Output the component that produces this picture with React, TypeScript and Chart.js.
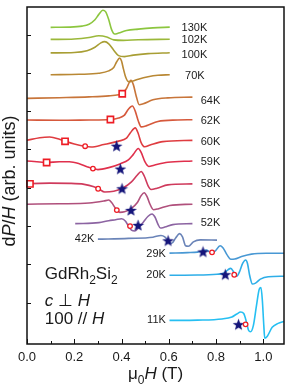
import React, { useEffect, useRef } from "react";
import { Chart, registerables } from "chart.js";
Chart.register(...registerables);

// ---- Data: magnetic field (T) and dP/dH signal (arb. units, stacked offsets) ----
const field130K = [0.1, 0.179, 0.233, 0.2625, 0.2875, 0.304, 0.321, 0.333, 0.346, 0.358, 0.371, 0.3875, 0.421, 0.471, 0.533, 0.604];
const signal130K = [322.3, 322.5, 323.5, 325.5, 330, 335.5, 339.7, 338, 330, 320, 315.5, 316.5, 319, 320.5, 321.8, 322.5];

const field102K = [0.1, 0.2, 0.2625, 0.304, 0.3375, 0.367, 0.408, 0.471, 0.604];
const signal102K = [310, 310.5, 312, 313.7, 312.5, 309.5, 309, 309.7, 310.2];

const field100K = [0.1, 0.2, 0.254, 0.2875, 0.3125, 0.329, 0.346, 0.367, 0.3875, 0.4125, 0.45, 0.5125, 0.604];
const signal100K = [296.3, 296.7, 298.5, 302, 306.5, 307.8, 305.5, 299, 293.5, 292.5, 294, 295.5, 296.5];

const field70K = [0.1, 0.221, 0.304, 0.346, 0.367, 0.379, 0.392, 0.4, 0.408, 0.417, 0.429, 0.446, 0.471, 0.5125, 0.554, 0.604];
const signal70K = [274, 274.5, 275.5, 278, 281.5, 287, 291, 288, 280, 272, 267, 267.5, 269.5, 272, 273.5, 274];

const field64K = [0, 0.1375, 0.2625, 0.346, 0.3875, 0.404, 0.421, 0.44, 0.45, 0.4625, 0.475, 0.492, 0.533, 0.596, 0.7];
const signal64K = [250, 250.7, 251.5, 252.5, 253.7, 255, 260, 268.5, 264, 252, 243.5, 244.5, 248.5, 250.5, 251.3];

const field62K = [0, 0.1375, 0.2625, 0.354, 0.3875, 0.4125, 0.429, 0.446, 0.458, 0.471, 0.483, 0.504, 0.554, 0.6375, 0.7];
const signal62K = [228, 227.7, 228, 228.5, 230, 233, 239, 242.2, 237, 227, 221, 222, 226.5, 228, 228.3];

const field60K = [0, 0.054, 0.096, 0.1375, 0.1625, 0.2, 0.242, 0.271, 0.325, 0.3875, 0.421, 0.4375, 0.458, 0.471, 0.483, 0.498, 0.521, 0.575, 0.7];
const signal60K = [207.3, 210, 210.7, 208.5, 206.3, 203.5, 201.3, 200.5, 203, 206.5, 209.5, 215, 220, 214, 205, 200.7, 202.5, 206, 207.3];

const field59K = [0, 0.054, 0.083, 0.1375, 0.179, 0.221, 0.254, 0.279, 0.3, 0.346, 0.396, 0.429, 0.45, 0.471, 0.483, 0.5, 0.515, 0.5375, 0.596, 0.7];
const signal59K = [186.3, 185.3, 184.7, 185.5, 185.5, 183.5, 180.5, 178.5, 177.5, 179.5, 183.5, 187.5, 193, 199, 195, 185, 180.7, 182, 185, 186.3];

const field58K = [0, 0.0125, 0.096, 0.179, 0.242, 0.2833, 0.304, 0.329, 0.367, 0.408, 0.442, 0.467, 0.483, 0.496, 0.5125, 0.525, 0.55, 0.596, 0.7];
const signal58K = [163, 163.2, 163.7, 163.5, 162.5, 160, 157.8, 154.7, 155.5, 159, 165, 172, 175.5, 171, 161, 157.3, 158.5, 162, 163];

const field55K = [0, 0.1375, 0.2625, 0.325, 0.346, 0.358, 0.375, 0.392, 0.4125, 0.442, 0.467, 0.483, 0.496, 0.508, 0.521, 0.535, 0.554, 0.604, 0.7];
const signal55K = [142.3, 142.7, 143.5, 145.5, 146.5, 144, 138, 134, 134.5, 138, 144, 151, 154, 150, 142, 136.7, 137.5, 141, 142.3];

const field52K = [0.204, 0.304, 0.346, 0.375, 0.4, 0.417, 0.429, 0.442, 0.456, 0.471, 0.492, 0.5125, 0.529, 0.542, 0.554, 0.5646, 0.583, 0.617, 0.7];
const signal52K = [122.5, 123.5, 125.5, 126.5, 127.5, 125, 120, 116, 115, 118, 124, 130, 132.3, 129, 122, 118, 119, 121.5, 122.5];

const field42K = [0.3, 0.429, 0.533, 0.567, 0.583, 0.6, 0.6125, 0.629, 0.646, 0.658, 0.671, 0.683, 0.704, 0.733, 0.804];
const signal42K = [106.7, 107.5, 108.7, 110.5, 109, 104, 102.5, 108, 112.3, 109, 100, 99.5, 104, 106, 105.7];

const field29K = [0.603, 0.679, 0.721, 0.742, 0.758, 0.779, 0.796, 0.817, 0.829, 0.846, 0.8625, 0.879, 0.908, 0.95, 1.0125, 1.0875];
const signal29K = [92.5, 93, 93.5, 94.5, 95.5, 93, 94.5, 100, 98, 91, 86.2, 86.5, 89, 91.5, 92.3, 92.3];

const field20K = [0.603, 0.721, 0.804, 0.833, 0.85, 0.8625, 0.875, 0.8875, 0.9, 0.9125, 0.925, 0.933, 0.942, 0.954, 0.967, 0.9875, 1.021, 1.0875];
const signal20K = [70, 70.2, 71, 72, 75.5, 77, 73, 69, 74, 82, 85.5, 82, 70, 61, 62, 66, 68.5, 69];

const field11K = [0.603, 0.721, 0.825, 0.867, 0.8875, 0.904, 0.917, 0.929, 0.9375, 0.946, 0.958, 0.971, 0.983, 0.99, 0.996, 1.002, 1.006, 1.017, 1.0375, 1.0625, 1.0875];
const signal11K = [24, 24.3, 25.5, 27.5, 30.5, 32.5, 31, 22, 14, 12.5, 19, 39, 56, 57.5, 44, 19, 6, 8, 17, 21, 23];

// Markers
const squareField = [0.403, 0.353, 0.161, 0.083, 0.0125];
const squareSignal = [254.7, 228.5, 206.3, 184.7, 163];
const circleField = [0.246, 0.279, 0.301, 0.38, 0.436, 0.783, 0.877, 0.925];
const circleSignal = [201.3, 178.5, 158, 136.3, 120, 93.3, 70.5, 20];
const starField = [0.379, 0.395, 0.402, 0.44, 0.47, 0.597, 0.745, 0.839, 0.895];
const starSignal = [201.3, 178, 158, 136, 120.7, 105, 93.7, 70.5, 19.7];

// Temperature labels
const tempLabels = ["130K", "102K", "100K", "70K", "64K", "62K", "60K", "59K", "58K", "55K", "52K", "42K", "29K", "20K", "11K"];
const tempLabelField = [0.654, 0.654, 0.654, 0.669, 0.735, 0.735, 0.735, 0.735, 0.735, 0.735, 0.735, 0.285, 0.5875, 0.5875, 0.5875];
const tempLabelSignal = [321.3, 309, 294, 273.3, 247.3, 226.7, 205.7, 185.7, 163.3, 143.3, 123.3, 107, 91.5, 70.5, 24];

// Axis ticks
const xTickValues = [0, 0.1, 0.2, 0.3, 0.4, 0.5, 0.6, 0.7, 0.8, 0.9, 1.0];
const xTickLabels = ["0.0", "", "0.2", "", "0.4", "", "0.6", "", "0.8", "", "1.0"];
const yTickValues = [315, 276, 237, 198, 159, 120, 81, 42];

const curves = [
  { name: "130K", f: field130K, s: signal130K, color: "#8cc63f" },
  { name: "102K", f: field102K, s: signal102K, color: "#9bb83a" },
  { name: "100K", f: field100K, s: signal100K, color: "#a89e34" },
  { name: "70K", f: field70K, s: signal70K, color: "#b98834" },
  { name: "64K", f: field64K, s: signal64K, color: "#c8753a" },
  { name: "62K", f: field62K, s: signal62K, color: "#d6593c" },
  { name: "60K", f: field60K, s: signal60K, color: "#df3c40" },
  { name: "59K", f: field59K, s: signal59K, color: "#e0304c" },
  { name: "58K", f: field58K, s: signal58K, color: "#cf3a5c" },
  { name: "55K", f: field55K, s: signal55K, color: "#b0507c" },
  { name: "52K", f: field52K, s: signal52K, color: "#8c64a2" },
  { name: "42K", f: field42K, s: signal42K, color: "#6a84b8" },
  { name: "29K", f: field29K, s: signal29K, color: "#4898d4" },
  { name: "20K", f: field20K, s: signal20K, color: "#2eaee8" },
  { name: "11K", f: field11K, s: signal11K, color: "#26bff2" },
];

const FONT = '"Liberation Sans", Arial, Helvetica, sans-serif';
type Seg = { t: string; i?: boolean; sub?: boolean };

function drawRich(ctx: CanvasRenderingContext2D, segs: Seg[], x: number, y: number, size: number, align: "left" | "center" | "right") {
  const fontFor = (s: Seg) => `${s.i ? "italic " : ""}${s.sub ? Math.round(size * 0.68) : size}px ${FONT}`;
  let total = 0;
  const ws = segs.map((s) => {
    ctx.font = fontFor(s);
    const w = ctx.measureText(s.t).width;
    total += w;
    return w;
  });
  let cx = align === "center" ? x - total / 2 : align === "right" ? x - total : x;
  ctx.textAlign = "left";
  segs.forEach((s, k) => {
    ctx.font = fontFor(s);
    ctx.fillText(s.t, cx, y + (s.sub ? size * 0.3 : 0));
    cx += ws[k];
  });
}

function makeStar(): HTMLCanvasElement {
  const c = document.createElement("canvas");
  c.width = 13;
  c.height = 13;
  const g = c.getContext("2d")!;
  g.fillStyle = "#15157a";
  g.beginPath();
  for (let k = 0; k < 10; k++) {
    const r = k % 2 === 0 ? 6.2 : 2.6;
    const a = -Math.PI / 2 + (k * Math.PI) / 5;
    const px = 6.5 + r * Math.cos(a);
    const py = 6.8 + r * Math.sin(a);
    if (k === 0) g.moveTo(px, py);
    else g.lineTo(px, py);
  }
  g.closePath();
  g.fill();
  return c;
}

const decorPlugin = {
  id: "decor",
  afterDatasetsDraw(chart: any) {
    const ctx: CanvasRenderingContext2D = chart.ctx;
    const a = chart.chartArea;
    const xs = chart.scales.x;
    const ys = chart.scales.y;
    ctx.save();
    ctx.fillStyle = "#1a1a1a";
    ctx.strokeStyle = "#111";
    // frame
    ctx.lineWidth = 1.5;
    ctx.strokeRect(a.left, a.top, a.right - a.left, a.bottom - a.top);
    // x ticks (inward)
    ctx.lineWidth = 1;
    xTickValues.forEach((v, k) => {
      const px = Math.round(xs.getPixelForValue(v)) + 0.5;
      const len = xTickLabels[k] ? 5 : 3;
      ctx.beginPath();
      ctx.moveTo(px, a.bottom);
      ctx.lineTo(px, a.bottom - len);
      ctx.stroke();
    });
    yTickValues.forEach((v) => {
      const py = Math.round(ys.getPixelForValue(v)) + 0.5;
      ctx.beginPath();
      ctx.moveTo(a.left, py);
      ctx.lineTo(a.left + 4, py);
      ctx.stroke();
    });
    // x tick labels
    ctx.textBaseline = "alphabetic";
    ctx.font = `13px ${FONT}`;
    ctx.textAlign = "center";
    xTickValues.forEach((v, k) => {
      if (!xTickLabels[k]) return;
      ctx.fillText(xTickLabels[k], xs.getPixelForValue(v), a.bottom + 17);
    });
    // x title
    drawRich(ctx, [{ t: "\u03bc" }, { t: "0", sub: true }, { t: "H", i: true }, { t: " (T)" }], (a.left + a.right) / 2, a.bottom + 35, 17, "center");
    // y title
    ctx.save();
    ctx.translate(10, 181);
    ctx.rotate(-Math.PI / 2);
    ctx.textBaseline = "middle";
    drawRich(ctx, [{ t: "d" }, { t: "P", i: true }, { t: "/" }, { t: "H", i: true }, { t: " (arb. units)" }], 0, 0, 18, "center");
    ctx.restore();
    // temperature labels
    ctx.textBaseline = "middle";
    ctx.font = `11px ${FONT}`;
    tempLabels.forEach((lab, k) => {
      ctx.textAlign = k >= 11 ? "right" : "left";
      ctx.fillText(lab, xs.getPixelForValue(tempLabelField[k]), ys.getPixelForValue(tempLabelSignal[k]));
    });
    // annotations
    ctx.textBaseline = "alphabetic";
    const ax = xs.getPixelForValue(0.075);
    drawRich(ctx, [{ t: "GdRh" }, { t: "2", sub: true }, { t: "Si" }, { t: "2", sub: true }], ax, ys.getPixelForValue(66), 17, "left");
    drawRich(ctx, [{ t: "c", i: true }, { t: " \u22a5 " }, { t: "H", i: true }], ax, ys.getPixelForValue(39), 17, "left");
    drawRich(ctx, [{ t: "100 // " }, { t: "H", i: true }], ax, ys.getPixelForValue(20), 17, "left");
    ctx.restore();
  },
};

export default function App() {
  const ref = useRef<HTMLCanvasElement>(null);
  useEffect(() => {
    if (!ref.current) return;
    const star = makeStar();
    const lineSets = curves.map((c) => ({
      type: "line" as const,
      label: c.name,
      data: c.f.map((x, k) => ({ x, y: c.s[k] })),
      borderColor: c.color,
      borderWidth: 1.6,
      pointRadius: 0,
      fill: false,
      cubicInterpolationMode: "monotone" as const,
      order: 2,
    }));
    const chart = new Chart(ref.current, {
      type: "scatter",
      data: {
        datasets: [
          {
            label: "squares",
            data: squareField.map((x, k) => ({ x, y: squareSignal[k] })),
            pointStyle: "rect",
            pointRadius: 4.4,
            pointBorderColor: "#ee1c24",
            pointBackgroundColor: "#ffffff",
            pointBorderWidth: 1.6,
            showLine: false,
            clip: false,
            order: 0,
          } as any,
          {
            label: "circles",
            data: circleField.map((x, k) => ({ x, y: circleSignal[k] })),
            pointStyle: "circle",
            pointRadius: 2.3,
            pointBorderColor: "#ee1c24",
            pointBackgroundColor: "#ffffff",
            pointBorderWidth: 1.3,
            showLine: false,
            order: 0,
          } as any,
          {
            label: "stars",
            data: starField.map((x, k) => ({ x, y: starSignal[k] })),
            pointStyle: star,
            pointRadius: 6,
            showLine: false,
            order: 0,
          } as any,
          ...lineSets,
        ],
      },
      options: {
        animation: false,
        responsive: false,
        devicePixelRatio: 1,
        layout: { padding: { left: 27, right: 3, top: 1, bottom: 46 } },
        plugins: { legend: { display: false }, tooltip: { enabled: false } },
        scales: {
          x: { type: "linear", min: 0, max: 1.0875, display: false },
          y: { type: "linear", min: 0, max: 343, display: false },
        },
      },
      plugins: [decorPlugin],
    });
    return () => chart.destroy();
  }, []);
  return (
    <div style={{ position: "fixed", left: 0, top: 0, width: 291, height: 390, background: "#fff" }}>
      <canvas ref={ref} width={291} height={390} style={{ width: 291, height: 390, display: "block" }} />
    </div>
  );
}
